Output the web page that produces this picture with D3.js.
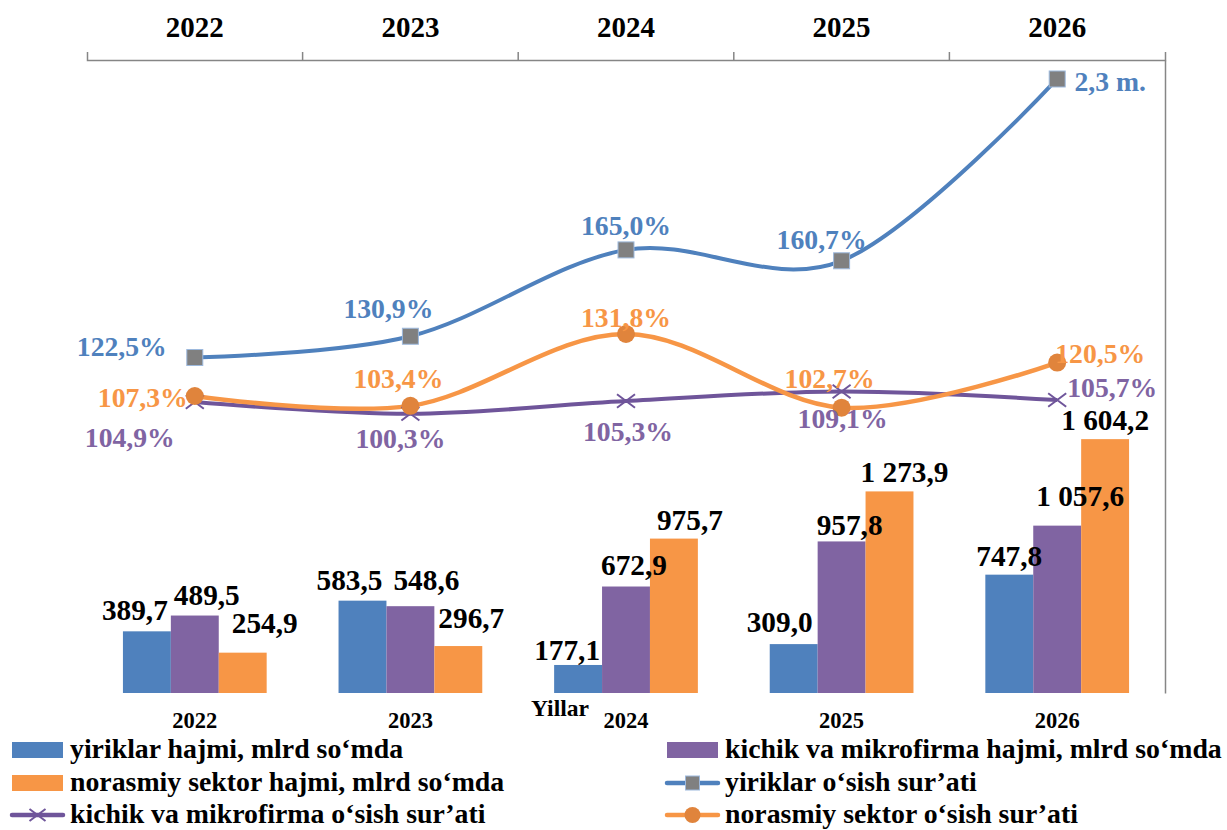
<!DOCTYPE html>
<html>
<head>
<meta charset="utf-8">
<script src="https://cdn.jsdelivr.net/npm/d3@7"></script>
</head>
<body style="margin:0; background:#fff">
<div id="viz"></div>
<script>
(function() {
  var W = 1227, H = 830;

  // data
  var years = ["2022", "2023", "2024", "2025", "2026"];
  var volumeNames = ["yiriklar hajmi, mlrd so‘mda", "kichik va mikrofirma hajmi, mlrd so‘mda", "norasmiy sektor hajmi, mlrd so‘mda"];
  var yiriklarHajmi = [389.7, 583.5, 177.1, 309.0, 747.8];
  var kichikHajmi = [489.5, 548.6, 672.9, 957.8, 1057.6];
  var norasmiyHajmi = [254.9, 296.7, 975.7, 1273.9, 1604.2];
  var growthNames = ["yiriklar o‘sish sur’ati", "kichik va mikrofirma o‘sish sur’ati", "norasmiy sektor o‘sish sur’ati"];
  var yiriklarOsish = [122.5, 130.9, 165.0, 160.7, 232.5];
  var kichikOsish = [104.9, 100.3, 105.3, 109.1, 105.7];
  var norasmiyOsish = [107.3, 103.4, 131.8, 102.7, 120.5];
  var yiriklarOsishLabels = ["122,5%", "130,9%", "165,0%", "160,7%", "2,3 m."];

  var fmt = function(v) {
    var parts = v.toFixed(1).split(".");
    return parts[0].replace(/\B(?=(\d{3})+(?!\d))/g, " ") + "," + parts[1];
  };
  var pct = function(v) { return v.toFixed(1).replace(".", ",") + "%"; };

  // label nudges (manual positions from the source chart)
  var barNudge = [
    [[-12, -3], [12, -3], [22, -12]],
    [[-13, -3], [16, -8], [13, -10]],
    [[-11, 3], [8, -4], [16, -1]],
    [[-14, -4], [8, 2], [15, -1]],
    [[0, -1], [23, -12], [0, -1]]
  ];
  var blueNudge = [[-73, -2], [-22, -18], [0, -15], [-20, -12], [53, 12]];
  var orangeNudge = [[-52, 11], [-12, -18], [0, -7], [-12, -20], [43, 0]];
  var purpleNudge = [[-65, 45], [-10, 34], [2, 40], [1, 37], [55, -3]];

  var blue = "#4F81BD", purple = "#8064A2", orange = "#F79646";
  var purpleLine = "#6F559A", orangeMarker = "#E0843C", gray = "#868686";
  var serif = "'Liberation Serif', 'Times New Roman', Times, serif";

  var svg = d3.select("#viz").append("svg").attr("width", W).attr("height", H);

  // font size that gives a string the width it has in the source picture
  var fitFont = function(str, target) {
    var t = svg.append("text").style("font-family", serif).style("font-weight", "bold")
      .style("font-size", "100px").text(str);
    var w = t.node().getComputedTextLength();
    t.remove();
    return (100 * target / w).toFixed(1) + "px";
  };
  var topSize = fitFont("2022", 58);
  var bottomSize = fitFont("2022", 45);
  var yillarSize = fitFont("Yillar", 58);
  var barSize = fitFont("1 604,2", 88);
  var lineSize = fitFont("122,5%", 90);
  var legendSize = fitFont(volumeNames[1], 497);

  var left = 87, right = 1165, top = 60, base = 693;

  var x = d3.scaleBand().domain(years).range([left, right]).padding(0);
  var bw = x.bandwidth() / 4.5;
  var xs = d3.scaleBand().domain([0, 1, 2]).range([bw * 0.75, bw * 3.75]);
  var y1 = d3.scaleLinear().domain([0, 4000]).range([base, top]);
  var y2 = d3.scaleLinear().domain([-10, 240]).range([base, top]);

  // top axis
  var topAxis = svg.append("g").attr("transform", "translate(0," + top + ")")
    .call(d3.axisTop(x).tickSize(0).tickSizeOuter(8).tickPadding(23));
  topAxis.select(".domain").attr("stroke", gray).attr("stroke-width", 1.5);
  topAxis.selectAll("text").style("font-size", topSize).attr("fill", "#000");
  topAxis.selectAll("line.edge").data(years.slice(1)).enter().append("line")
    .attr("class", "edge").attr("x1", function(d) { return x(d); }).attr("x2", function(d) { return x(d); })
    .attr("y1", 0).attr("y2", -8).attr("stroke", gray).attr("stroke-width", 1.5);

  // right axis line
  var rightAxis = svg.append("g").attr("transform", "translate(" + right + ",0)")
    .call(d3.axisRight(y2).ticks(0).tickSizeOuter(0));
  rightAxis.select(".domain").attr("stroke", gray).attr("stroke-width", 1.5);

  // bottom labels
  var bottomAxis = svg.append("g").attr("transform", "translate(0," + base + ")")
    .call(d3.axisBottom(x).tickSize(0).tickPadding(19));
  bottomAxis.select(".domain").remove();
  bottomAxis.selectAll("text").style("font-size", bottomSize).attr("fill", "#000");

  svg.append("text").attr("x", 560).attr("y", 716).attr("text-anchor", "middle")
    .style("font-size", yillarSize).text("Yillar");

  // bars
  var volumes = [yiriklarHajmi, kichikHajmi, norasmiyHajmi];
  var barColors = [blue, purple, orange];
  var barData = [];
  years.forEach(function(yr, i) {
    volumes.forEach(function(arr, s) {
      barData.push({ year: yr, i: i, s: s, v: arr[i] });
    });
  });

  svg.append("g").selectAll("rect").data(barData).enter().append("rect")
    .attr("x", function(d) { return x(d.year) + xs(d.s); })
    .attr("y", function(d) { return y1(d.v); })
    .attr("width", xs.bandwidth())
    .attr("height", function(d) { return base - y1(d.v); })
    .attr("fill", function(d) { return barColors[d.s]; });

  svg.append("g").selectAll("text").data(barData).enter().append("text")
    .attr("x", function(d) { return x(d.year) + xs(d.s) + xs.bandwidth() / 2 + barNudge[d.i][d.s][0]; })
    .attr("y", function(d) { return y1(d.v) - 8 + barNudge[d.i][d.s][1]; })
    .attr("text-anchor", "middle").style("font-size", barSize).attr("fill", "#000")
    .text(function(d) { return fmt(d.v); });

  // lines
  var xc = function(i) { return x(years[i]) + x.bandwidth() / 2; };
  var line = d3.line()
    .x(function(d, i) { return xc(i); })
    .y(function(d) { return y2(d); })
    .curve(d3.curveCatmullRom.alpha(0));

  var g = svg.append("g");
  g.append("path").datum(kichikOsish).attr("d", line).attr("fill", "none")
    .attr("stroke", purpleLine).attr("stroke-width", 4);
  g.append("path").datum(norasmiyOsish).attr("d", line).attr("fill", "none")
    .attr("stroke", orange).attr("stroke-width", 4.5);
  g.append("path").datum(yiriklarOsish).attr("d", line).attr("fill", "none")
    .attr("stroke", blue).attr("stroke-width", 4);

  // markers
  var xMark = function(sel, cx, cy, r) {
    sel.append("path").attr("d", "M" + (cx - r) + "," + (cy - r * 0.75) + "L" + (cx + r) + "," + (cy + r * 0.75) +
      "M" + (cx - r) + "," + (cy + r * 0.75) + "L" + (cx + r) + "," + (cy - r * 0.75))
      .attr("stroke", purpleLine).attr("stroke-width", 2).attr("fill", "none");
  };
  kichikOsish.forEach(function(v, i) { xMark(g, xc(i), y2(v), 9); });

  g.selectAll("circle.m").data(norasmiyOsish).enter().append("circle").attr("class", "m")
    .attr("cx", function(d, i) { return xc(i); }).attr("cy", function(d) { return y2(d); })
    .attr("r", 9).attr("fill", orangeMarker);

  g.selectAll("rect.m").data(yiriklarOsish).enter().append("rect").attr("class", "m")
    .attr("x", function(d, i) { return xc(i) - 8; }).attr("y", function(d) { return y2(d) - 8; })
    .attr("width", 16).attr("height", 16).attr("fill", "#808080")
    .attr("stroke", "#9DB9DD").attr("stroke-width", 1);

  // line labels
  var addLabels = function(vals, texts, nudge, color) {
    g.selectAll(null).data(vals).enter().append("text")
      .attr("x", function(d, i) { return xc(i) + nudge[i][0]; })
      .attr("y", function(d, i) { return y2(d) + nudge[i][1]; })
      .attr("text-anchor", "middle").style("font-size", lineSize).attr("fill", color)
      .text(function(d, i) { return texts[i]; });
  };
  addLabels(yiriklarOsish, yiriklarOsishLabels, blueNudge, blue);
  addLabels(norasmiyOsish, norasmiyOsish.map(pct), orangeNudge, orange);
  addLabels(kichikOsish, kichikOsish.map(pct), purpleNudge, purple);

  // legend
  var legendItems = [
    { name: volumeNames[0], type: "bar", color: blue, col: 0, row: 0 },
    { name: volumeNames[1], type: "bar", color: purple, col: 1, row: 0 },
    { name: volumeNames[2], type: "bar", color: orange, col: 0, row: 1 },
    { name: growthNames[0], type: "square", color: blue, col: 1, row: 1 },
    { name: growthNames[1], type: "x", color: purpleLine, col: 0, row: 2 },
    { name: growthNames[2], type: "circle", color: orange, col: 1, row: 2 }
  ];
  var colX = [12, 667], rowY = [750, 783, 815];
  var lg = svg.append("g");
  legendItems.forEach(function(it) {
    var lx = colX[it.col], ly = rowY[it.row];
    var item = lg.append("g");
    if (it.type === "bar") {
      item.append("rect").attr("x", lx).attr("y", ly - 8).attr("width", 51).attr("height", 16).attr("fill", it.color);
    } else {
      item.append("line").attr("x1", lx).attr("x2", lx + 51).attr("y1", ly).attr("y2", ly)
        .attr("stroke", it.color).attr("stroke-width", 4.5).attr("stroke-linecap", "round");
      if (it.type === "square") {
        item.append("rect").attr("x", lx + 25.5 - 7).attr("y", ly - 7).attr("width", 14).attr("height", 14)
          .attr("fill", "#808080").attr("stroke", "#9DB9DD");
      } else if (it.type === "circle") {
        item.append("circle").attr("cx", lx + 25.5).attr("cy", ly).attr("r", 8).attr("fill", orangeMarker);
      } else {
        xMark(item, lx + 25.5, ly, 8);
      }
    }
    item.append("text").attr("x", lx + 58).attr("y", ly + 8).style("font-size", legendSize).attr("fill", "#000").text(it.name);
  });

  // one font for every text
  svg.selectAll("text").style("font-family", serif).style("font-weight", "bold");
})();
</script>
</body>
</html>
